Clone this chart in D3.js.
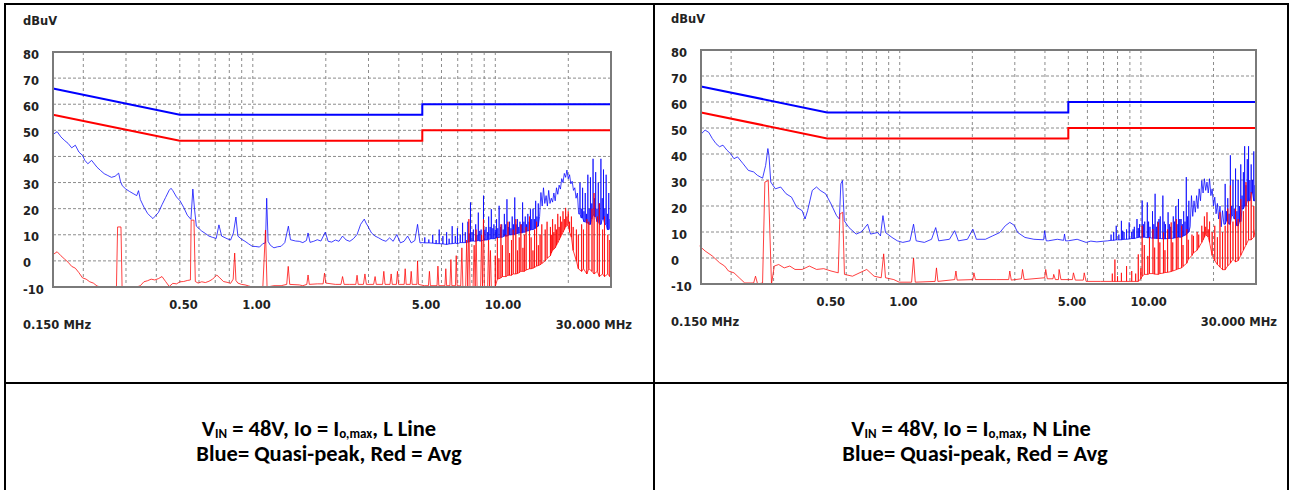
<!DOCTYPE html>
<html>
<head>
<meta charset="utf-8">
<script src="https://cdn.jsdelivr.net/npm/d3@7"></script>
<style>
body { margin: 0; background: #fff; }
</style>
</head>
<body>
<script>
var w = 1290;
var h = 490;

// axis ticks
var yTicks = [80, 70, 60, 50, 40, 30, 20, 10, 0, -10];
var xGrid = [0.2, 0.3, 0.4, 0.5, 0.6, 0.7, 0.8, 0.9, 1, 2, 3, 4, 5, 6, 7, 8, 9, 10, 20];
var xLabelVals = [0.5, 1, 5, 10];
var xLabelText = ["0.50", "1.00", "5.00", "10.00"];

// limit lines (MHz, dBuV)
var qpLimit = [[0.15, 66], [0.5, 56], [5, 56], [5, 60], [30, 60]];
var avgLimit = [[0.15, 56], [0.5, 46], [5, 46], [5, 50], [30, 50]];

// L line, quasi-peak: [MHz, dBuV] points, spikes as [MHz, floor, peak]
var lineQPLow = [[0.150,48.4],[0.156,49.5],[0.1616,47.5],[0.167,46.2],[0.1731,45.0],[0.1791,43.3],[0.1854,44.3],[0.1918,41.7],[0.1985,40.4],[0.203,38.5],[0.2088,37.2],[0.2164,38.5],[0.2277,35.9],[0.2357,34.6],[0.2439,33.4],[0.2524,32.7],[0.2612,32.0],[0.2704,32.4],[0.2798,33.6],[0.2846,30.5],[0.2895,28.8],[0.2996,27.5],[0.3101,26.6],[0.3209,25.8],[0.3321,25.0],[0.3379,26.9],[0.3437,23.5],[0.3557,20.6],[0.3681,18.2],[0.381,16.8],[0.3875,16.2],[0.3943,17.0],[0.408,18.5],[0.4223,21.5],[0.437,24.3],[0.4523,27.1],[0.4602,27.8],[0.4681,26.9],[0.4844,24.5],[0.5013,23.0],[0.5188,20.5],[0.5369,17.5],[0.5557,15.9],[0.566,27.5],[0.575,19.8],[0.585,13.3],[0.6159,11.4],[0.6374,10.5],[0.6596,9.5],[0.6827,9.0],[0.7065,8.6],[0.725,13.8],[0.744,9.5],[0.7831,8.5],[0.81,8.0],[0.832,10.7],[0.852,16.8],[0.868,9.5],[0.898,8.3],[0.929,7.5],[0.962,6.5],[0.995,5.6],[1.03,5.5],[1.066,5.3],[1.10,6.6],[1.128,6.9],[1.141,24.0],[1.156,7.5],[1.181,6.0],[1.222,5.0],[1.265,5.4],[1.309,5.6],[1.355,7.0],[1.402,13.3],[1.43,8.1],[1.502,7.6],[1.554,7.5],[1.608,7.0],[1.664,7.8],[1.69,10.7],[1.722,7.1],[1.783,7.5],[1.845,8.1],[1.909,7.6],[1.99,11.0],[2.045,7.5],[2.116,7.2],[2.19,8.0],[2.266,7.5],[2.345,9.5],[2.427,8.0],[2.512,7.5],[2.6,8.5],[2.691,10.1],[2.785,14.0],[2.882,16.0],[2.93,14.5],[2.982,13.3],[3.086,10.7],[3.194,9.5],[3.306,8.8],[3.421,8.0],[3.541,7.5],[3.664,8.8],[3.792,7.5],[3.925,10.1],[4.062,6.9],[4.204,7.5],[4.35,9.5],[4.502,6.9],[4.659,7.8],[4.78,14.0],[4.89,6.9],[5.0,7.0]];
var lineQPSpikes = [[5.12,6.9,9.0],[5.32,6.9,8.2],[5.52,6.8,10.0],[5.70,6.6,8.0],[5.87,6.6,12.0],[6.08,6.5,9.5],[6.30,6.3,11.0],[6.45,6.5,8.5],[6.64,6.6,13.3],[6.84,6.8,9.5],[6.98,6.6,12.5],[7.17,7.0,10.0],[7.33,7.0,14.6],[7.52,7.0,11.0],[7.71,7.2,15.0],[7.81,7.3,10.5],[7.90,7.5,22.4],[8.02,7.6,11.0],[8.12,7.6,12.0],[8.30,7.5,14.0],[8.41,7.7,10.0],[8.51,7.8,18.5],[8.63,7.6,11.5],[8.74,7.6,12.0],[8.94,8.0,25.0],[9.05,8.0,12.0],[9.16,8.0,13.0],[9.30,8.1,11.0],[9.39,8.2,17.0],[9.52,8.4,13.0],[9.63,8.5,19.8],[9.77,8.5,12.5],[9.87,8.5,14.0],[10.00,8.7,12.0],[10.12,8.8,16.0],[10.24,8.9,12.5],[10.37,9.0,21.1],[10.52,9.0,13.0],[10.63,9.0,14.0],[10.78,9.3,12.0],[10.90,9.5,18.0],[11.03,9.5,14.0],[11.17,9.5,23.6],[11.32,9.8,13.0],[11.45,10.0,15.0],[11.60,10.0,12.5],[11.74,10.0,17.0],[11.88,10.1,14.0],[12.03,10.2,24.3],[12.18,10.4,14.0],[12.33,10.5,16.0],[12.49,10.6,13.0],[12.64,10.7,15.0],[12.80,10.8,14.0],[12.96,10.8,22.4],[13.12,11.0,15.0],[13.29,11.0,17.0],[13.45,11.3,14.0],[13.62,11.5,18.0],[13.79,11.6,15.0],[13.96,11.8,19.8],[14.13,12.0,16.0],[14.31,12.0,20.0],[14.49,12.3,16.0],[14.67,12.5,23.0],[14.85,13.0,17.0],[15.04,13.3,22.0]];
var lineQPHump = [[15.23,17.0],[15.42,26.2],[15.61,21.0],[15.80,28.0],[16.00,22.0],[16.20,25.0],[16.40,21.0],[16.60,27.0],[16.81,22.0],[17.02,24.0],[17.23,22.5],[17.44,26.0],[17.66,23.0],[17.88,28.0],[18.10,25.5],[18.33,29.0],[18.56,27.5],[18.79,31.5],[19.02,30.0],[19.26,33.5],[19.50,32.0],[19.74,34.8],[19.99,31.5],[20.24,33.0],[20.49,29.5],[20.75,30.5],[21.01,27.0],[21.27,28.0],[21.53,24.0],[21.80,26.0],[22.07,18.0]];
var lineQPSpikesHi = [[22.35,18.0,30.0],[22.62,16.5,20.0],[22.91,16.5,28.0],[23.20,15.0,19.0],[23.49,15.0,26.0],[23.78,14.5,18.0],[24.08,14.5,33.0],[24.38,14.0,20.0],[24.68,14.0,32.0],[24.99,16.0,22.0],[25.30,18.0,39.1],[25.62,17.0,24.0],[25.94,17.0,34.0],[26.26,15.0,20.0],[26.59,15.0,30.0],[26.92,14.0,22.0],[27.26,14.0,39.1],[27.60,16.0,24.0],[27.94,16.0,35.0],[28.29,14.0,20.0],[28.65,14.0,33.0],[29.00,12.0,18.0],[29.37,12.0,26.0],[29.73,12.5,16.0],[29.95,12.5,20.0]];

// L line, average
var lineAvgLow = [[0.150,2.4],[0.156,3.5],[0.1616,2.0],[0.167,0.8],[0.1731,-0.5],[0.1791,-2.1],[0.1854,-2.8],[0.1918,-4.5],[0.1985,-6.5],[0.2055,-7.0],[0.2126,-8.0],[0.22,-8.5],[0.2277,-9.6],[0.2357,-10],[0.274,-10],[0.277,13.0],[0.286,13.0],[0.289,-10],[0.3321,-10],[0.3437,-9.5],[0.3557,-8.0],[0.3681,-7.6],[0.381,-7.0],[0.3943,-7.3],[0.408,-6.8],[0.4223,-6.0],[0.437,-7.9],[0.4523,-9.8],[0.4681,-8.6],[0.4844,-8.8],[0.5013,-8.0],[0.5188,-7.9],[0.5369,-7.5],[0.553,-7.3],[0.557,15.6],[0.572,15.6],[0.5794,-7.9],[0.5951,-8.5],[0.6159,-8.0],[0.6374,-8.3],[0.6596,-7.8],[0.6827,-7.0],[0.71,-5.4],[0.7312,-6.5],[0.7567,-7.9],[0.7831,-8.2],[0.81,-8.6],[0.83,-7.0],[0.842,3.0],[0.852,-7.5],[0.868,-8.5],[0.898,-9.0],[0.929,-9.2],[0.962,-9.6],[0.995,-10],[1.10,-10],[1.128,11.8],[1.145,-10],[1.222,-9.5],[1.309,-9.5],[1.38,-9.0],[1.40,-2.1],[1.42,-9.0],[1.554,-9.2],[1.608,-9.5],[1.67,-9.0],[1.69,-5.4],[1.71,-9.0],[1.845,-8.8],[1.95,-8.8],[1.976,-4.7],[2.0,-8.5],[2.19,-9.0],[2.31,-9.0],[2.345,-6.0],[2.38,-9.0],[2.5,-9.0],[2.66,-9.0],[2.691,-5.5],[2.72,-9.0],[2.86,-9.0],[2.9,-5.0],[2.94,-9.0],[3.15,-9.0],[3.194,-6.0],[3.23,-9.0],[3.43,-9.0],[3.47,-4.0],[3.51,-9.0],[3.68,-9.0],[3.72,-5.0],[3.76,-9.0],[3.91,-9.0],[3.95,-4.0],[3.99,-9.0],[4.21,-9.0],[4.25,-3.0],[4.29,-9.0],[4.46,-9.0],[4.5,-4.0],[4.54,-9.0],[4.75,-9.0],[4.78,0.0],[4.82,-9.0],[5.1,-9.5],[5.3,-9.5],[5.35,-4.0],[5.4,-9.5],[5.75,-9.5],[5.8,-2.0],[5.85,-9.5],[6.2,-9.5],[6.25,-3.0],[6.3,-9.5],[6.5,-9.5],[6.56,0.5],[6.62,-9.5],[6.85,-9.5],[6.9,2.0],[6.96,-9.5],[7.2,-9.6],[7.28,5.0],[7.35,-9.8],[7.55,-9.8],[7.62,8.0],[7.7,-9.8],[7.78,16.0],[7.86,-9.8],[8.1,-9.8],[8.18,6.0],[8.26,-9.8],[8.33,12.0],[8.41,-9.8],[8.7,-9.8],[8.78,10.0],[8.86,-9.8],[8.94,16.0],[9.02,-9.8],[9.3,-9.8],[9.38,8.0],[9.46,-9.8],[9.55,4.0],[9.63,-9.8],[9.9,-9.8]];
var lineAvgSpikes = [[10.0,-9.8,2.0],[10.2,-7.0,9.0],[10.35,-6.8,1.0],[10.55,-6.5,14.0],[10.7,-6.0,6.0],[11.06,-6.0,10.0],[11.28,-5.5,15.0],[11.45,-5.5,3.0],[11.66,-5.5,8.0],[11.85,-5.0,12.0],[12.15,-5.0,16.0],[12.35,-4.8,4.0],[12.55,-4.5,9.0],[12.75,-4.0,14.0],[13.0,-4.0,5.0],[13.18,-4.0,10.0],[13.40,-3.5,13.0],[13.84,-3.0,17.0],[14.05,-3.0,9.0],[14.3,-2.8,4.0],[14.52,-2.5,12.0],[14.80,-2.0,15.0],[15.05,-1.8,6.0],[15.30,-1.5,10.0],[15.55,-1.0,14.0],[16.06,0.0,12.0],[16.35,1.0,15.0],[16.88,2.0,13.0],[17.02,3.0,10.0],[17.23,4.0,16.0],[17.44,4.5,11.0],[17.66,5.0,14.0],[17.88,6.0,12.0],[18.10,7.0,18.0],[18.33,8.0,13.0],[18.56,9.0,17.0],[18.79,10.0,15.0],[19.02,11.0,19.0],[19.26,12.0,16.0],[19.50,13.0,20.3],[19.74,13.5,17.0],[19.99,14.0,19.0],[20.24,11.0,15.0],[20.6,9.0,17.0],[20.95,4.0,13.0],[21.6,0.0,12.0],[22.0,-3.0,10.0],[22.7,-4.0,14.0],[23.1,-3.0,12.0],[23.85,-5.0,16.0],[24.3,-3.0,15.0],[25.05,-4.0,20.0],[25.55,-5.0,26.0],[26.35,-4.0,17.0],[26.85,-6.0,22.0],[27.7,-5.0,12.0],[28.2,-6.0,17.0],[29.1,-5.0,10.0],[29.65,-6.0,8.0],[30.0,-6.0,-6.0]];

// N line, quasi-peak
var neutralQPLow = [[0.151,47.9],[0.156,49.2],[0.1616,48.3],[0.167,46.0],[0.173,44.0],[0.179,42.8],[0.185,43.4],[0.192,41.5],[0.1985,40.2],[0.2055,38.2],[0.2126,38.9],[0.224,36.3],[0.2357,33.7],[0.248,33.1],[0.257,31.8],[0.27,30.7],[0.278,35.6],[0.284,42.1],[0.287,39.5],[0.292,29.2],[0.305,26.6],[0.321,27.3],[0.338,24.7],[0.356,23.4],[0.374,19.5],[0.394,18.2],[0.405,15.0],[0.415,18.2],[0.434,26.0],[0.452,27.3],[0.468,26.0],[0.493,24.7],[0.519,20.8],[0.547,16.3],[0.562,15.0],[0.570,28.5],[0.579,29.8],[0.589,14.3],[0.616,11.7],[0.66,9.2],[0.695,10.1],[0.736,13.0],[0.757,9.2],[0.81,9.8],[0.832,8.5],[0.852,16.3],[0.873,9.8],[0.929,7.9],[0.978,6.6],[1.03,6.0],[1.103,6.6],[1.141,13.0],[1.17,6.6],[1.265,6.0],[1.355,7.2],[1.41,11.7],[1.451,6.6],[1.608,7.2],[1.69,10.5],[1.75,6.6],[1.909,7.2],[2.01,11.1],[2.08,7.2],[2.266,7.2],[2.427,8.5],[2.6,9.8],[2.74,12.4],[2.86,13.7],[2.982,12.6],[3.086,9.8],[3.306,7.9],[3.6,7.2],[3.95,7.0],[3.99,10.5],[4.05,6.6],[4.13,6.6],[4.502,7.2],[4.78,6.8],[4.822,9.2],[4.87,6.6],[4.99,6.6],[5.44,7.2],[5.925,6.0],[6.2,6.5],[6.567,6.2],[6.9,6.4],[7.28,6.6]];
var neutralQPSpikes = [[7.52,6.8,9.0],[7.71,6.8,10.0],[7.90,7.0,12.4],[8.10,7.0,9.0],[8.30,7.0,14.3],[8.40,7.1,10.5],[8.51,7.2,10.0],[8.72,7.2,11.0],[8.94,7.3,13.7],[9.16,7.5,10.0],[9.28,7.5,11.0],[9.39,7.5,12.0],[9.63,7.8,15.0],[9.75,7.9,11.5],[9.87,8.0,13.0],[10.12,8.0,22.1],[10.24,8.0,13.0],[10.37,8.0,14.0],[10.63,7.8,21.4],[10.76,7.8,14.0],[10.90,7.8,12.0],[11.17,7.6,18.0],[11.31,7.6,13.0],[11.45,7.6,24.7],[11.59,7.5,12.0],[11.74,7.5,14.0],[11.88,7.5,15.0],[12.03,7.5,16.0],[12.33,7.4,24.0],[12.49,7.4,14.0],[12.64,7.4,13.0],[12.96,7.5,17.6],[13.12,7.5,13.0],[13.29,7.5,12.0],[13.62,7.6,16.0],[13.79,7.7,14.0],[13.96,7.8,20.0],[14.13,7.9,13.0],[14.31,8.0,22.7],[14.49,8.0,15.0],[14.67,8.0,15.0],[14.85,8.2,13.0],[15.04,8.5,18.0],[15.23,8.8,14.0],[15.42,9.0,31.1],[15.61,9.5,16.0],[15.80,10.0,22.0]];
var neutralQPHump = [[16.00,12.0],[16.20,24.0],[16.40,16.0],[16.60,22.0],[16.81,17.6],[17.02,24.0],[17.23,19.0],[17.44,26.6],[17.66,22.0],[17.88,29.8],[18.10,25.0],[18.33,30.5],[18.56,26.0],[18.79,29.2],[19.02,25.0],[19.26,30.5],[19.50,24.0],[19.74,26.6],[19.99,20.0],[20.24,23.4],[20.49,17.0],[20.75,21.0],[21.01,15.0],[21.27,20.0],[21.53,12.0],[21.80,18.2],[22.07,13.0]];
var neutralQPSpikesHi = [[22.35,13.0,28.5],[22.62,14.3,18.0],[22.91,14.3,23.0],[23.20,13.0,17.0],[23.49,13.0,39.5],[23.78,16.3,20.0],[24.08,16.3,30.0],[24.38,15.0,19.0],[24.68,15.0,34.4],[24.99,12.4,18.0],[25.30,12.4,30.0],[25.62,14.0,20.0],[25.94,14.0,36.0],[26.26,18.9,24.0],[26.59,18.9,33.0],[26.92,20.0,43.0],[27.26,20.0,28.0],[27.60,22.0,38.0],[27.94,22.0,43.0],[28.29,22.0,30.0],[28.65,25.0,36.0],[29.00,25.0,30.0],[29.37,22.0,41.0],[29.73,22.0,28.0],[29.95,24.0,28.0]];

// N line, average
var neutralAvgLow = [[0.148,4.6],[0.156,2.7],[0.167,0.8],[0.179,-1.8],[0.188,-3.1],[0.195,-5.0],[0.2055,-5.7],[0.216,-7.6],[0.2277,-9.6],[0.24,-9.6],[0.248,-9.6],[0.2524,-7.0],[0.2575,-10],[0.27,-9.6],[0.276,29.2],[0.285,29.8],[0.294,-10],[0.302,-3.1],[0.315,-2.5],[0.332,-3.8],[0.35,-3.1],[0.368,-4.4],[0.394,-4.4],[0.422,-3.1],[0.452,-4.4],[0.484,-4.1],[0.519,-5.0],[0.556,-5.7],[0.565,16.9],[0.58,17.6],[0.59,-6.3],[0.637,-7.0],[0.73,-4.4],[0.783,-7.0],[0.838,-7.6],[0.858,1.6],[0.873,-7.6],[0.945,-8.3],[0.995,-9.3],[1.12,-9.3],[1.141,0.0],[1.16,-9.3],[1.402,-9.0],[1.42,-3.8],[1.44,-9.0],[1.69,-8.3],[1.71,-5.0],[1.73,-8.5],[2.01,-8.3],[2.03,-5.7],[2.06,-8.3],[2.512,-8.3],[2.83,-8.3],[2.86,-5.0],[2.9,-8.5],[3.194,-8.0],[3.23,-4.4],[3.28,-8.3],[3.99,-7.6],[4.03,-4.4],[4.09,-8.0],[4.32,-8.0],[4.35,-6.3],[4.42,-8.3],[4.55,-8.3],[4.58,-4.4],[4.66,-8.3],[4.99,-8.3],[5.2,-8.3],[5.25,-5.7],[5.345,-8.5],[5.77,-8.5],[5.82,-5.7],[5.925,-9.0],[6.797,-9.0],[7.534,-9.0]];
var neutralAvgSpikes = [[7.61,-9.0,-6.0],[7.80,-9.0,-0.6],[8.00,-9.0,-7.0],[8.30,-9.0,-5.7],[8.72,-9.0,-3.1],[9.16,-9.0,-5.0],[9.51,-9.0,-6.0],[9.75,-9.0,1.4],[9.99,-8.0,-4.0],[10.12,-7.0,12.4],[10.33,-6.3,5.0],[10.68,-6.3,0.8],[10.85,-6.0,8.0],[11.22,-6.0,11.1],[11.40,-6.2,4.0],[11.80,-6.3,13.7],[11.98,-6.0,6.0],[12.40,-5.8,9.8],[12.58,-5.6,3.0],[12.90,-5.5,11.0],[13.35,-5.2,13.7],[13.55,-5.0,6.0],[14.02,-4.5,15.0],[14.25,-4.2,8.0],[14.75,-3.8,12.4],[14.95,-3.2,5.0],[15.50,-2.0,11.1],[15.72,-0.5,7.0],[16.28,1.0,9.0],[16.52,2.0,8.5],[17.10,3.0,10.0],[17.36,4.0,9.0],[17.88,6.0,12.4],[18.10,7.0,10.0],[18.33,8.0,16.0],[18.56,9.0,12.0],[18.79,8.5,17.6],[19.02,8.0,11.0],[19.26,6.0,14.0],[19.74,1.0,10.0],[20.24,-1.0,12.4],[20.75,-2.5,8.0],[21.27,-3.5,17.6],[21.80,-4.5,10.0],[22.35,-4.5,12.4],[22.91,-3.0,19.0],[23.49,-2.0,27.9],[24.08,-0.5,14.0],[24.68,-1.5,18.9],[25.30,-1.0,15.0],[25.94,1.0,22.7],[26.59,3.0,18.0],[27.26,5.0,29.2],[27.94,7.0,22.0],[28.65,7.0,25.3],[29.37,8.0,20.0],[29.98,12.0,17.6]];

var captions = [
  [[["V", 0], ["IN", 1], [" = 48V, Io = I", 0], ["o,max", 1], [", L Line", 0]],
   [["Blue= Quasi-peak, Red = Avg", 0]]],
  [[["V", 0], ["IN", 1], [" = 48V, Io = I", 0], ["o,max", 1], [", N Line", 0]],
   [["Blue= Quasi-peak, Red = Avg", 0]]]
];

// spike rows [f, floor, peak] become floor-peak-floor at the same frequency
function spikes(rows) {
  var out = [];
  rows.forEach(function(r) {
    out.push([r[0], r[1]], [r[0], r[2]], [r[0], r[1]]);
  });
  return out;
}

var panels = [
  {x0: 53, x1: 611, y0: 52, y1: 287, cx: 329, shift: [-10, 0],
   qp: lineQPLow.concat(spikes(lineQPSpikes), lineQPHump, spikes(lineQPSpikesHi)),
   avg: lineAvgLow.concat(spikes(lineAvgSpikes))},
  {x0: 701, x1: 1256, y0: 50, y1: 284, cx: 971, shift: [0, 4],
   qp: neutralQPLow.concat(spikes(neutralQPSpikes), neutralQPHump, spikes(neutralQPSpikesHi)),
   avg: neutralAvgLow.concat(spikes(neutralAvgSpikes))}
];

var svg = d3.select("body")
    .append("svg")
    .attr("width", w)
    .attr("height", h);

var lblFont = "'DejaVu Sans', Verdana, sans-serif";

panels.forEach(function(p, k) {
  var x = d3.scaleLog().domain([0.15, 30]).range([p.x0, p.x1]);
  var y = d3.scaleLinear().domain([-10, 80]).range([p.y1, p.y0]);
  var g = svg.append("g");

  // grid
  g.selectAll(".hg")
   .data(yTicks.slice(1, -1))
   .enter()
   .append("line")
   .attr("x1", p.x0).attr("x2", p.x1)
   .attr("y1", function(d) { return y(d); })
   .attr("y2", function(d) { return y(d); })
   .attr("stroke", "#8c8c8c")
   .attr("stroke-dasharray", "3,2");

  g.selectAll(".vg")
   .data(xGrid)
   .enter()
   .append("line")
   .attr("x1", function(d) { return x(d); })
   .attr("x2", function(d) { return x(d); })
   .attr("y1", p.y0).attr("y2", p.y1)
   .attr("stroke", "#8c8c8c")
   .attr("stroke-dasharray", "3,3");

  var line = d3.line()
      .x(function(d) { return x(d[0]); })
      .y(function(d) { return y(d[1]); });

  // limit lines
  g.append("path").attr("d", line(qpLimit))
   .attr("fill", "none").attr("stroke", "#0000ff").attr("stroke-width", 2);
  g.append("path").attr("d", line(avgLimit))
   .attr("fill", "none").attr("stroke", "#ff0000").attr("stroke-width", 2);

  // measured traces
  g.append("path").attr("d", line(p.qp))
   .attr("fill", "none").attr("stroke", "#0000ff").attr("stroke-width", 1)
   .attr("stroke-opacity", 0.75).attr("stroke-linejoin", "round");
  g.append("path").attr("d", line(p.avg))
   .attr("fill", "none").attr("stroke", "#ff0000").attr("stroke-width", 1)
   .attr("stroke-opacity", 0.75).attr("stroke-linejoin", "round");

  // frame
  g.append("rect")
   .attr("x", p.x0).attr("y", p.y0)
   .attr("width", p.x1 - p.x0).attr("height", p.y1 - p.y0)
   .attr("fill", "none").attr("stroke", "#7a7a7a").attr("stroke-width", 2);

  // labels
  g.selectAll(".yl")
   .data(yTicks)
   .enter()
   .append("text")
   .text(function(d) { return d; })
   .attr("x", p.x0 - 30)
   .attr("y", function(d) { return y(d) + 6.5; })
   .attr("font-family", lblFont)
   .attr("font-weight", "bold")
   .attr("font-size", "11.5px")
   .attr("fill", "#222");

  g.selectAll(".xl")
   .data(xLabelVals)
   .enter()
   .append("text")
   .text(function(d, i) { return xLabelText[i]; })
   .attr("x", function(d) { return x(d) - 10.5; })
   .attr("y", p.y1 + 22)
   .attr("font-family", lblFont)
   .attr("font-weight", "bold")
   .attr("font-size", "11.5px")
   .attr("fill", "#222");

  g.append("text").text("dBuV")
   .attr("x", p.x0 - 30).attr("y", p.y0 - 27)
   .attr("font-family", lblFont).attr("font-weight", "bold")
   .attr("font-size", "11.5px").attr("fill", "#222");

  g.append("text").text("0.150 MHz")
   .attr("x", p.x0 - 30).attr("y", p.y1 + 42)
   .attr("font-family", lblFont).attr("font-weight", "bold")
   .attr("font-size", "11.5px").attr("fill", "#222");

  g.append("text").text("30.000 MHz")
   .attr("x", p.x1 + 21).attr("y", p.y1 + 42)
   .attr("text-anchor", "end")
   .attr("font-family", lblFont).attr("font-weight", "bold")
   .attr("font-size", "11.5px").attr("fill", "#222");

  // caption
  captions[k].forEach(function(parts, li) {
    var t = svg.append("text")
        .attr("x", p.cx + p.shift[li])
        .attr("y", li === 0 ? 436 : 461)
        .attr("text-anchor", "middle")
        .attr("font-family", "Carlito, 'Liberation Sans Narrow', 'Open Sans', sans-serif")
        .attr("font-weight", "bold")
        .attr("font-size", "22.5px")
        .attr("fill", "#000");
    var prevSub = 0;
    parts.forEach(function(pt) {
      t.append("tspan")
       .text(pt[0])
       .attr("font-size", pt[1] ? "13px" : null)
       .attr("dy", pt[1] === prevSub ? 0 : (pt[1] ? 2 : -2));
      prevSub = pt[1];
    });
  });
});

// table borders
var borders = [
  [4, 4, 1289, 4], [5, 3, 5, 490], [654, 3, 654, 490], [1288, 3, 1288, 490], [4, 383, 1289, 383]
];
svg.selectAll(".bd")
   .data(borders)
   .enter()
   .append("line")
   .attr("x1", function(d) { return d[0]; })
   .attr("y1", function(d) { return d[1]; })
   .attr("x2", function(d) { return d[2]; })
   .attr("y2", function(d) { return d[3]; })
   .attr("stroke", "#000")
   .attr("stroke-width", 2);
</script>
</body>
</html>
